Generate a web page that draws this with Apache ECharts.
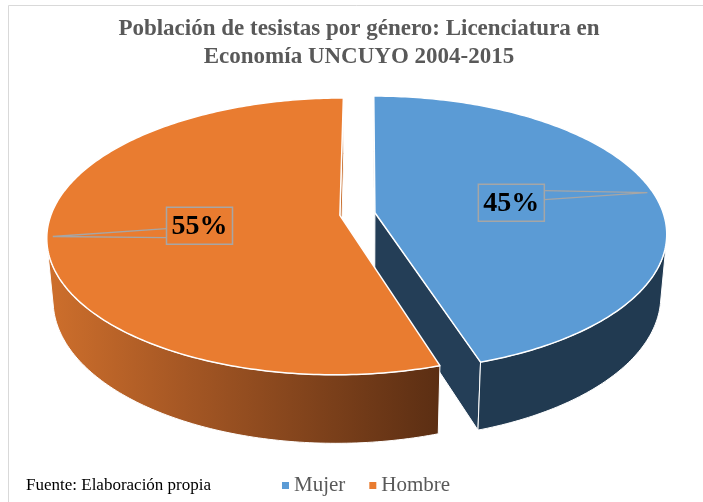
<!DOCTYPE html>
<html>
<head>
<meta charset="utf-8">
<script src="https://cdn.jsdelivr.net/npm/echarts@6/dist/echarts.min.js"></script>
<style>
  html, body { margin: 0; padding: 0; background: #fff; }
  #chart { width: 703px; height: 502px; }
</style>
</head>
<body>
<div id="chart"></div>
<script>
// ---- data ----
const categories = ['Mujer', 'Hombre'];
const values = [45, 55];
const titleText = 'Población de tesistas por género: Licenciatura en\nEconomía UNCUYO 2004-2015';
const sourceText = 'Fuente: Elaboración propia';

// ---- styles ----
const topColors = ['#5B9BD5', '#E97C30'];
const cutFills = ['#243E57', '#C4641F'];
const wallFills = [
  '#213A51',
  new echarts.graphic.LinearGradient(0, 0, 1, 0, [
    { offset: 0, color: '#CE6F2C' },
    { offset: 0.35, color: '#A55724' },
    { offset: 1, color: '#5B2E13' }
  ])
];

// ---- 3D view parameters ----
const CX = 366.1, CY = 214, S = 1677, K = 5.81, SN = 0.467, CS = 0.884, H = 0.245, EX = 0.0614, OX = 0.03;

const total = values.reduce((a, b) => a + b, 0);

function makeRender(i) {
  return function (params, api) {
    const a0 = api.value(1), a1 = api.value(2);
    const o = api.coord([0, 0]);
    const dir = (a) => {
      const p = api.coord([1, a]);
      const dx = p[0] - o[0], dy = p[1] - o[1];
      const r = Math.hypot(dx, dy);
      return [dx / r, -dy / r];
    };
    const dm = dir((a0 + a1) / 2);
    const ex = EX * dm[0], ev = EX * dm[1];
    const P = (X, v, Y) => {
      const depth = K - Y * SN + v * CS;
      const up = Y * CS + v * SN;
      return [CX + S * (X - OX) / depth, CY - S * up / depth];
    };
    const n = Math.max(2, Math.ceil((a1 - a0) / 0.25));
    const rim = [];
    for (let j = 0; j <= n; j++) rim.push(dir(a0 + (a1 - a0) * j / n));
    const children = [];
    const camX = OX - ex, camV = -K * CS - ev;

    // radial cut faces
    [[rim[0], -1], [rim[n], 1]].forEach(([d, s]) => {
      const nx = s * d[1], nv = -s * d[0];
      if (nx * camX + nv * camV > 0) {
        children.push({
          type: 'polygon', z2: 1,
          shape: { points: [P(ex, ev, 0), P(ex + d[0], ev + d[1], 0), P(ex + d[0], ev + d[1], -H), P(ex, ev, -H)] },
          style: { fill: cutFills[i], stroke: '#fff', lineWidth: 1, lineJoin: 'round' }
        });
      }
    });

    // outer wall (visible part)
    const vis = rim.map(d => d[0] * (OX - ex - d[0]) + d[1] * (-K * CS - ev - d[1]) > 0);
    let runStart = -1;
    for (let j = 0; j <= n + 1; j++) {
      const v = j <= n && vis[j];
      if (v && runStart < 0) runStart = j;
      if (!v && runStart >= 0) {
        const seg = rim.slice(runStart, j);
        if (seg.length >= 2) {
          const pts = seg.map(d => P(ex + d[0], ev + d[1], 0))
            .concat(seg.slice().reverse().map(d => P(ex + d[0], ev + d[1], -H)));
          children.push({
            type: 'polygon', z2: 2,
            shape: { points: pts },
            style: { fill: wallFills[i], stroke: '#fff', lineWidth: 1, lineJoin: 'round' }
          });
        }
        runStart = -1;
      }
    }

    // top face
    children.push({
      type: 'polygon', z2: 3,
      shape: { points: [P(ex, ev, 0)].concat(rim.map(d => P(ex + d[0], ev + d[1], 0))) },
      style: { fill: topColors[i], stroke: '#fff', lineWidth: 1.5, lineJoin: 'round' }
    });

    // data callout
    const bc = P(ex + 0.485 * dm[0], ev + 0.485 * dm[1], 0);
    const anc = P(ex + 0.98 * dm[0], ev + 0.98 * dm[1], 0);
    const bw = 66, bh = 37;
    const side = anc[0] > bc[0] ? 1 : -1;
    const bx = bc[0] + side * bw / 2;
    const ys = anc[1] < bc[1] ? [bc[1] - 12, bc[1] - 3] : [bc[1] + 3, bc[1] + 12];
    children.push({
      type: 'polyline', z2: 10,
      shape: { points: [[bx, ys[0]], anc, [bx, ys[1]]] },
      style: { fill: null, stroke: '#A6A6A6', lineWidth: 1.3 }
    });
    children.push({
      type: 'rect', z2: 10,
      shape: { x: bc[0] - bw / 2, y: bc[1] - bh / 2, width: bw, height: bh },
      style: { fill: null, stroke: '#A6A6A6', lineWidth: 1.5 }
    });
    children.push({
      type: 'text', z2: 11, x: bc[0], y: bc[1] + 1,
      style: {
        text: Math.round((a1 - a0) / total * 100) + '%',
        font: 'bold 28px "Liberation Serif", "Times New Roman", serif',
        fill: '#000', align: 'center', verticalAlign: 'middle'
      }
    });
    return { type: 'group', children };
  };
}

let acc = 0;
const series = categories.map((name, i) => {
  const start = acc;
  acc += values[i];
  return {
    name, type: 'custom', coordinateSystem: 'polar', clip: false,
    color: topColors[i],
    encode: { radius: 0, angle: [1, 2] },
    data: [[1, start, acc]],
    renderItem: makeRender(i)
  };
});

const chart = echarts.init(document.getElementById('chart'), null, { renderer: 'canvas' });
chart.setOption({
  animation: false,
  backgroundColor: '#fff',
  title: [
    {
      text: titleText, left: 359, top: 15, padding: 0, textAlign: 'center',
      textStyle: { fontFamily: '"Liberation Serif", "Times New Roman", serif', fontSize: 23, fontWeight: 'bold', color: '#595959', lineHeight: 28 }
    },
    {
      text: sourceText, left: 26, top: 477, padding: 0,
      textStyle: { fontFamily: '"Liberation Serif", "Times New Roman", serif', fontSize: 17, fontWeight: 'normal', color: '#000' }
    }
  ],
  legend: {
    data: categories, left: 282, top: 475, padding: 0,
    icon: 'rect', itemWidth: 7, itemHeight: 7, itemGap: 24,
    selectedMode: false,
    textStyle: { fontFamily: '"Liberation Serif", "Times New Roman", serif', fontSize: 21, color: '#595959' }
  },
  polar: { center: [CX, CY], radius: 100 },
  angleAxis: { type: 'value', min: 0, max: total, startAngle: 90, clockwise: true, show: false },
  radiusAxis: { type: 'value', min: 0, max: 1, show: false },
  graphic: [{
    type: 'rect', silent: true, z: -1,
    shape: { x: 8.5, y: 5.5, width: 720, height: 520 },
    style: { fill: null, stroke: '#D9D9D9', lineWidth: 1 }
  }],
  series
});
</script>
</body>
</html>
